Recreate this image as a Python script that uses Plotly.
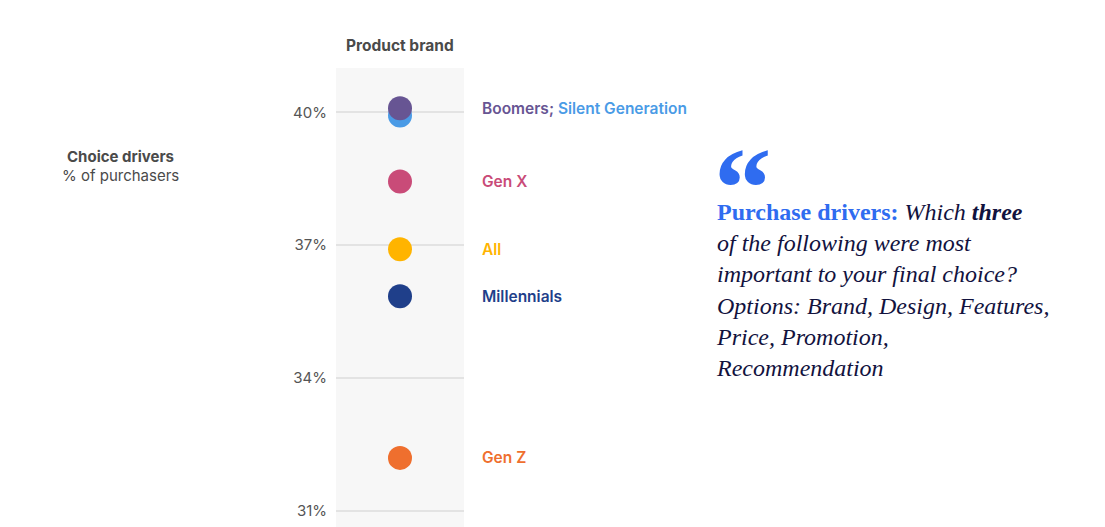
import plotly.graph_objects as go

groups = ["Silent Generation", "Boomers", "Gen X", "All", "Millennials", "Gen Z"]
values = [39.93, 40.09, 38.44, 36.91, 35.85, 32.2]
colors = ["#4A9BE6", "#675593", "#C94B78", "#FFB400", "#1F3F8A", "#EF6F2E"]
tick_vals = [31, 34, 37, 40]
tick_text = ["31%", "34%", "37%", "40%"]

fig = go.Figure()
for g, v, c in zip(groups, values, colors):
    fig.add_trace(go.Scatter(x=[0], y=[v], mode="markers", name=g,
                             marker=dict(size=24, color=c, line=dict(width=0)),
                             hoverinfo="skip"))

label_font = dict(family="Inter", size=15.5, weight=600)
for g, v, c in zip(groups, values, colors):
    if g == "Silent Generation":
        continue
    if g == "Boomers":
        txt = "Boomers; <span style='color:%s'>Silent Generation</span>" % colors[0]
    else:
        txt = g
    fig.add_annotation(x=1.125, xref="paper", y=v, yref="y", text=txt,
                       showarrow=False, xanchor="left", yanchor="middle",
                       font=dict(color=c, **label_font))

fig.add_annotation(x=0.5, xref="paper", y=1.048, yref="paper", text="<b>Product brand</b>",
                   showarrow=False, xanchor="center", yanchor="middle",
                   font=dict(family="Inter", size=15.5, color="#4a4a4a"))
fig.add_annotation(x=-1.6875, xref="paper", y=0.808, yref="paper", text="<b>Choice drivers</b>",
                   showarrow=False, xanchor="center", yanchor="middle",
                   font=dict(family="Inter", size=15, color="#4a4a4a"))
fig.add_annotation(x=-1.6875, xref="paper", y=0.765, yref="paper", text="% of purchasers",
                   showarrow=False, xanchor="center", yanchor="middle",
                   font=dict(family="Inter", size=15, color="#4a4a4a"))

fig.add_annotation(x=2.94, xref="paper", y=0.8806, yref="paper", text="<b>\u201c</b>",
                   showarrow=False, xanchor="left", yanchor="top", height=72, valign="top",
                   font=dict(family="Liberation Serif", size=115, color="#2F6CF0"))

quote = ("<span style='color:#2F6CF0'><b>Purchase drivers:</b></span> <i>Which <b>three</b></i><br>"
         "<i>of the following were most</i><br>"
         "<i>important to your final choice?</i><br>"
         "<i>Options: Brand, Design, Features,</i><br>"
         "<i>Price, Promotion,</i><br>"
         "<i>Recommendation</i>")
fig.add_annotation(x=2.953, xref="paper", y=0.72, yref="paper", text=quote,
                   showarrow=False, xanchor="left", yanchor="top", align="left",
                   font=dict(family="Liberation Serif", size=24, color="#12123E"))

fig.update_xaxes(range=[-1, 1], visible=False, fixedrange=True)
fig.update_yaxes(range=[30.64, 41.0], tickvals=tick_vals, ticktext=tick_text,
                 showgrid=True, gridcolor="#e3e3e3", gridwidth=2, zeroline=False,
                 showline=False, ticks="", ticklabelstandoff=8,
                 tickfont=dict(family="Inter", size=15, color="#555555"))

fig.update_layout(width=1097, height=519, showlegend=False,
                  margin=dict(l=328, r=641, t=60, b=0),
                  plot_bgcolor="#f7f7f7", paper_bgcolor="#ffffff")

fig.write_html("out.html", config={"displayModeBar": False})
